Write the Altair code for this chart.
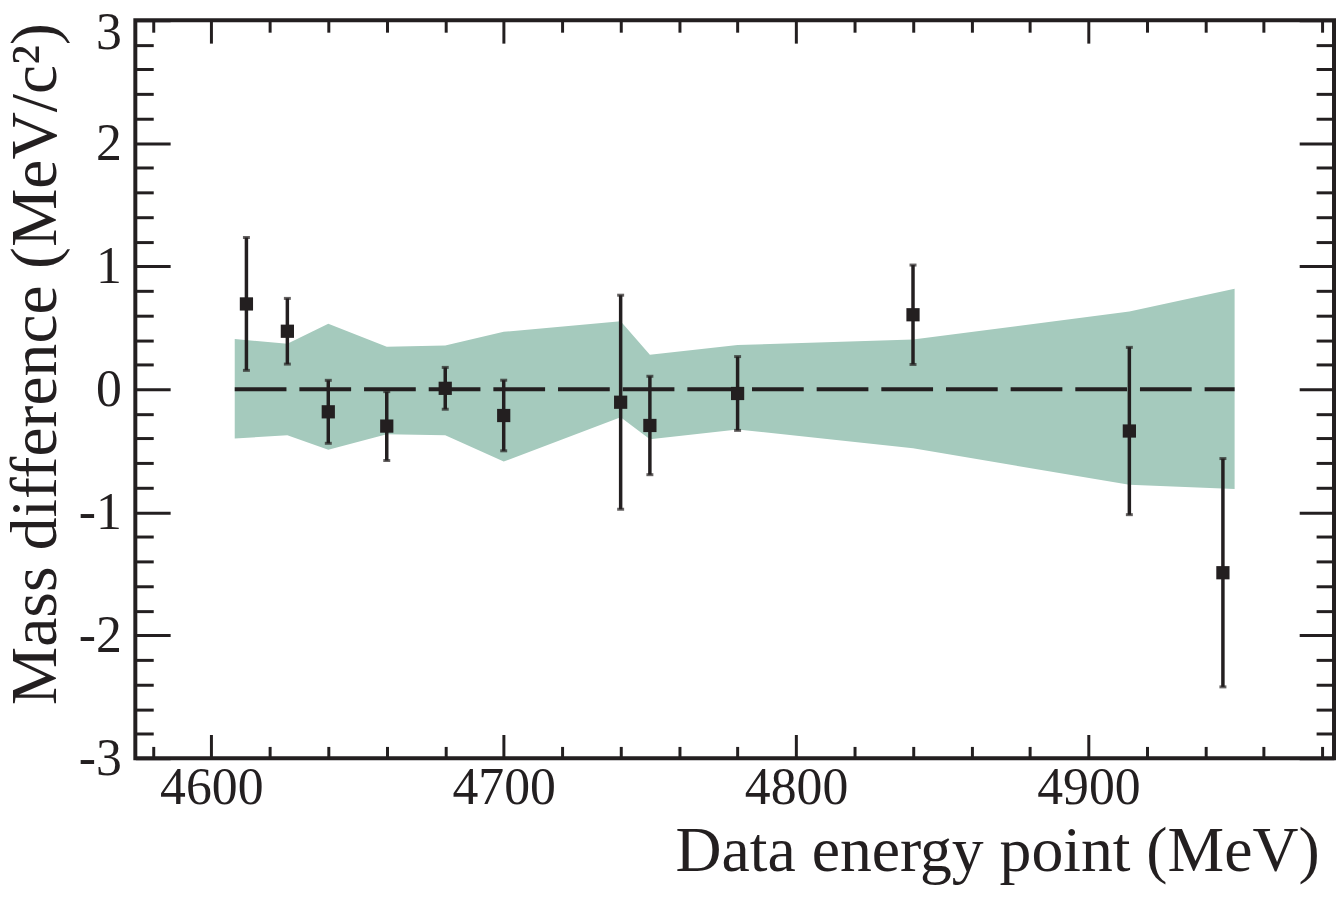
import altair as alt
import pandas as pd

# ---- data ----
band_e = [4608, 4626, 4640, 4660, 4680, 4700, 4740, 4750, 4780, 4840, 4914, 4950]
band_up = [0.408, 0.370, 0.533, 0.346, 0.357, 0.467, 0.554, 0.280, 0.360, 0.405, 0.632, 0.818]
band_lo = [-0.400, -0.373, -0.491, -0.366, -0.373, -0.587, -0.227, -0.406, -0.326, -0.480, -0.776, -0.811]

pt_e = [4612, 4626, 4640, 4660, 4680, 4700, 4740, 4750, 4780, 4840, 4914, 4946]
pt_y = [0.694, 0.472, -0.183, -0.299, 0.008, -0.213, -0.105, -0.294, -0.034, 0.606, -0.339, -1.491]
pt_err = [0.540, 0.267, 0.256, 0.280, 0.170, 0.287, 0.870, 0.400, 0.300, 0.404, 0.680, 0.928]

x_major = [4600, 4700, 4800, 4900]
x_minor = [4580, 4620, 4640, 4660, 4680, 4720, 4740, 4760, 4780, 4820, 4840,
           4860, 4880, 4920, 4940, 4960, 4980]
y_major = [-3, -2, -1, 0, 1, 2, 3]
y_minor = [-2.8, -2.6, -2.4, -2.2, -1.8, -1.6, -1.4, -1.2, -0.8, -0.6, -0.4, -0.2,
           0.2, 0.4, 0.6, 0.8, 1.2, 1.4, 1.6, 1.8, 2.2, 2.4, 2.6, 2.8]

x_title = "Data energy point (MeV)"
y_title = "Mass difference (MeV/c\u00b2)"

# ---- tables ----
band = pd.DataFrame({"e": band_e, "up": band_up, "lo": band_lo})
pts = pd.DataFrame({"e": pt_e, "y": pt_y, "err": pt_err})
pts["lo"] = pts["y"] - pts["err"]
pts["hi"] = pts["y"] + pts["err"]
ref = pd.DataFrame({"e0": [min(band_e)], "e1": [max(band_e)], "zero": [0.0]})

W, H = 1205, 742
INK = "#231f20"
FONT = "Liberation Serif"

xs = alt.Scale(domain=[4574, 4984], nice=False, zero=False)
ys = alt.Scale(domain=[-3, 3], nice=False, zero=False)

def tick_axis(orient, values, size, offset):
    return alt.Axis(orient=orient, values=values, tickSize=size, offset=offset,
                    labels=False, domain=False, grid=False, ticks=True,
                    tickColor=INK, tickWidth=3, title="")

lab_expr = "'' + datum.value"

x_lab_axis = alt.Axis(orient="bottom", values=x_major, ticks=False, tickSize=0,
                      domain=False, grid=False, labelFont=FONT, labelFontSize=52,
                      labelColor=INK, labelPadding=4, labelExpr=lab_expr,
                      title=x_title, titleFont=FONT, titleFontSize=64,
                      titleFontWeight="normal", titleColor=INK,
                      titleX=1190, titleY=113, titleAlign="right",
                      titleBaseline="alphabetic", titleAngle=0)
y_lab_axis = alt.Axis(orient="left", values=y_major, ticks=False, tickSize=0,
                      domain=False, grid=False, labelFont=FONT, labelFontSize=52,
                      labelColor=INK, labelPadding=14, labelExpr=lab_expr,
                      labelOffset={"expr": "datum.value == 3 ? 12 : 0"},
                      title=y_title, titleFont=FONT, titleFontSize=66,
                      titleFontWeight="normal", titleColor=INK,
                      titleX=-80, titleY=688, titleAlign="left",
                      titleBaseline="alphabetic", titleAngle=270)

band_layer = alt.Chart(band).mark_area(color="#a5cabd", opacity=1, interpolate="linear").encode(
    x=alt.X("e:Q", scale=xs, axis=x_lab_axis),
    y=alt.Y("up:Q", scale=ys, axis=y_lab_axis),
    y2="lo:Q",
)

ref_layer = alt.Chart(ref).mark_rule(color=INK, strokeWidth=4, strokeDash=[52, 13], strokeCap="butt").encode(
    x=alt.X("e0:Q", scale=xs, axis=tick_axis("top", x_major, 24, -H)),
    x2="e1:Q",
    y=alt.Y("zero:Q", scale=ys, axis=tick_axis("right", y_major, 35, -W)),
)

err_layer = alt.Chart(pts).mark_rule(color=INK, strokeWidth=3.5).encode(
    x=alt.X("e:Q", scale=xs, axis=tick_axis("top", x_minor, 12, -H)),
    y=alt.Y("lo:Q", scale=ys, axis=tick_axis("right", y_minor, 18, -W)),
    y2="hi:Q",
)

cap_hi = alt.Chart(pts).mark_tick(color=INK, orient="horizontal", size=7, thickness=3).encode(
    x=alt.X("e:Q", scale=xs, axis=tick_axis("bottom", x_major, 23, -H)),
    y=alt.Y("hi:Q", scale=ys, axis=tick_axis("left", y_major, 35, -W)),
)

cap_lo = alt.Chart(pts).mark_tick(color=INK, orient="horizontal", size=7, thickness=3).encode(
    x=alt.X("e:Q", scale=xs, axis=tick_axis("bottom", x_minor, 12, -H)),
    y=alt.Y("lo:Q", scale=ys, axis=tick_axis("left", y_minor, 18, -W)),
)

sq_layer = alt.Chart(pts).mark_square(color=INK, filled=True, opacity=1, size=177).encode(
    x=alt.X("e:Q", scale=xs, axis=None),
    y=alt.Y("y:Q", scale=ys, axis=None),
)

chart = alt.layer(band_layer, ref_layer, err_layer, cap_hi, cap_lo, sq_layer).resolve_axis(
    x="independent", y="independent"
).resolve_scale(x="shared", y="shared").properties(
    width=W, height=H,
    padding={"left": 128, "top": 10, "right": 2, "bottom": 127},
    autosize=alt.AutoSizeParams(type="none"),
    background="white",
).configure_view(stroke=INK, strokeWidth=4)

chart.save("out.html", embed_options={"renderer": "svg", "actions": False})
